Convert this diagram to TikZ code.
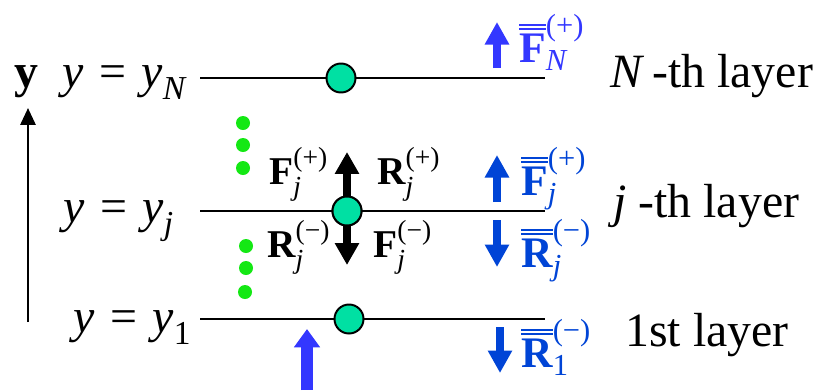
\documentclass[tikz,border=0pt]{standalone}
\usepackage{amsmath}
\usepackage{fontspec}
\setmainfont{Liberation Serif}
\usetikzlibrary{arrows.meta, positioning, calc}
\definecolor{partgreen}{RGB}{0,224,163}
\definecolor{dotgreen}{RGB}{20,232,20}
\definecolor{fluxblue}{RGB}{51,55,255}
\definecolor{fluxdark}{RGB}{0,68,214}
\newcommand{\dblbar}[1]{\vbox{\hrule height 1.5pt\kern 1.5pt\hrule height 1.5pt\kern 2.2pt\hbox{$#1$}}}
\newcommand{\vecF}{\text{\bfseries F}}
\newcommand{\vecR}{\text{\bfseries R}}
\newcommand{\idx}[1]{\text{\itshape #1}}
\newcommand{\plus}{\text{(+)}}
\newcommand{\minus}{\text{(−)}}
\newcommand{\eqsign}{\mathrel{\,\text{=}\,}}

\begin{document}
\begin{tikzpicture}[
                x=0.025cm, y=-0.025cm,
                layerline/.style={line width=1.8pt},
                particle/.style={
                    circle,
                    fill=partgreen,
                    draw=black,
                    line width=1.4pt,
                    minimum size=29*0.7113pt,
                    inner sep=0pt
                },
                gdot/.style={circle, fill=dotgreen, minimum size=14*0.7113pt, inner sep=0pt},
                bigtext/.style={font=\fontsize{34}{40}\selectfont, inner sep=0pt, anchor=base west},
                forcetext/.style={font=\fontsize{28}{34}\selectfont, inner sep=0pt, anchor=base west},
                fluxtext/.style={font=\fontsize{31}{36}\selectfont, inner sep=0pt, anchor=base west},
                forcearrow/.style={line width=5.7pt, -{Triangle[width=16.4pt, length=15.6pt]}},
                fluxarrow/.style={line width=5.7pt, -{Triangle[width=16.4pt, length=16pt]}},
                axisarrow/.style={line width=1.8pt, -{Triangle[width=10.7pt, length=12pt]}}
            ]
                \useasboundingbox (0,0) rectangle (815,390);
                % axis
                \coordinate (ax0) at (28,322);
                \coordinate (ax1) at (28,108);
                \draw[axisarrow] (ax0) -- (ax1);
                \node[bigtext] (ylab) at (14,87) {\textbf{y}};
                % layers
                \coordinate (lN0) at (200,78);  \coordinate (lN1) at (545,78);
                \coordinate (lj0) at (200,211); \coordinate (lj1) at (545,211);
                \coordinate (l10) at (200,319); \coordinate (l11) at (545,319);
                \draw[layerline] (lN0) -- (lN1);
                \draw[layerline] (lj0) -- (lj1);
                \draw[layerline] (l10) -- (l11);
                \node[bigtext] (yN) at (62,87) {$\idx{y}\eqsign\idx{y}_{\idx{N}}$};
                \node[bigtext] (yj) at (63,222) {$\idx{y}\eqsign\idx{y}_{\idx{j}}$};
                \node[bigtext] (y1) at (73,332) {$\idx{y}\eqsign\idx{y}_{\text{1}}$};
                \node[bigtext] (layN) at (610,87) {\textit{N}\,-th layer};
                \node[bigtext] (layj) at (613,217) {\textit{j} -th layer};
                \node[bigtext] (lay1) at (625,346) {1st layer};
                % green dots
                \foreach \i/\yy in {1/123, 2/145, 3/168} {
                    \node[gdot] (gu\i) at (243,\yy) {};
                }
                \foreach \i/\xx/\yy in {1/246/246, 2/246/268, 3/245/292} {
                    \node[gdot] (gd\i) at (\xx,\yy) {};
                }
                % forces at layer j
                \node[particle] (pj) at (347,211) {};
                \coordinate (bu) at (347,152);
                \coordinate (bd) at (347,265);
                \draw[forcearrow] (pj) -- (bu);
                \draw[forcearrow] (pj) -- (bd);
                \node[particle] (pj) at (347,211) {};
                \node[particle] (pN) at (341,78) {};
                \node[particle] (p1) at (349,319) {};
                \node[forcetext] (Fjp) at (269,184) {$\vecF_{\idx{j}}^{\plus}$};
                \node[forcetext] (Rjp) at (377,184) {$\vecR_{\idx{j}}^{\plus}$};
                \node[forcetext] (Rjm) at (267,257) {$\vecR_{\idx{j}}^{\minus}$};
                \node[forcetext] (Fjm) at (373,257) {$\vecF_{\idx{j}}^{\minus}$};
                % fluxes
                \coordinate (fN0) at (497,68);  \coordinate (fN1) at (497,22);
                \coordinate (fj0) at (497,202); \coordinate (fj1) at (497,155);
                \coordinate (rj0) at (497,220); \coordinate (rj1) at (497,267);
                \coordinate (r10) at (500,327); \coordinate (r11) at (500,373);
                \coordinate (s0) at (307,390);  \coordinate (s1) at (307,329);
                \draw[fluxarrow, fluxblue] (fN0) -- (fN1);
                \draw[fluxarrow, fluxdark] (fj0) -- (fj1);
                \draw[fluxarrow, fluxdark] (rj0) -- (rj1);
                \draw[fluxarrow, fluxdark] (r10) -- (r11);
                \draw[fluxblue, line width=8.5pt, -{Triangle[width=17.8pt, length=13pt]}] (s0) -- (s1);
                \node[fluxtext, text=fluxblue] (FN) at (519,62) {$\dblbar{\vecF}^{\plus}_{\idx{N}}$};
                \node[fluxtext, text=fluxdark] (Fj) at (521,195) {$\dblbar{\vecF}^{\plus}_{\idx{j}}$};
                \node[fluxtext, text=fluxdark] (Rj) at (521,267) {$\dblbar{\vecR}^{\minus}_{\idx{j}}$};
                \node[fluxtext, text=fluxdark] (R1) at (521,367) {$\dblbar{\vecR}^{\minus}_{\text{1}}$};
            \end{tikzpicture}
\end{document}
